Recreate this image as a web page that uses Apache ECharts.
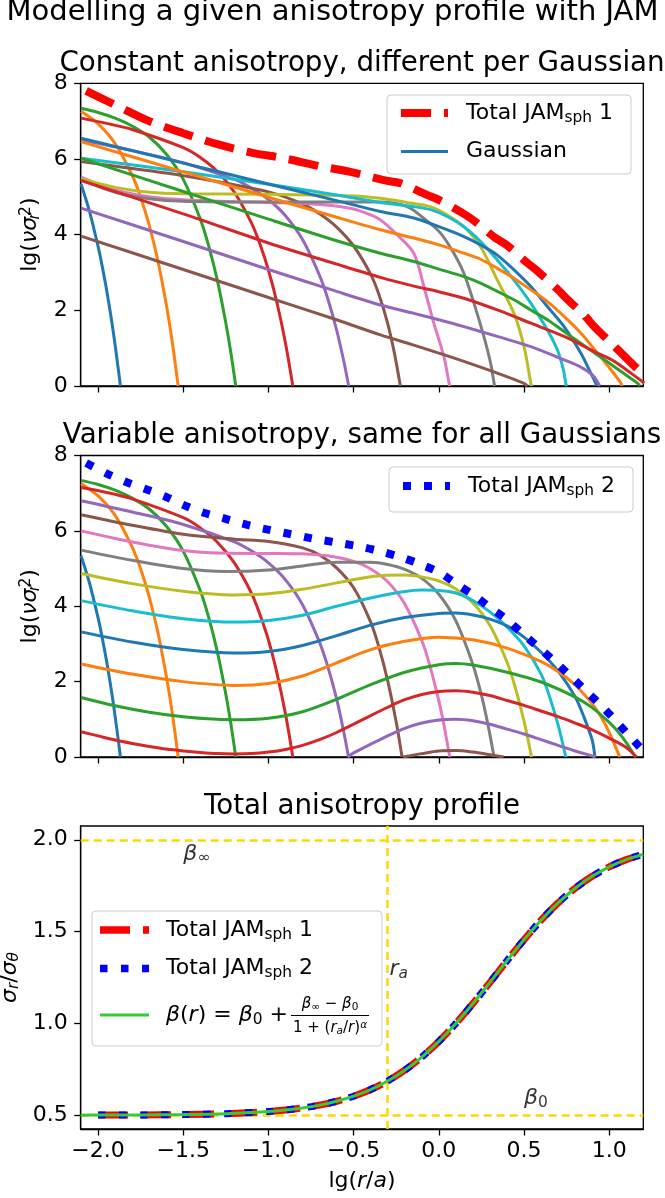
<!DOCTYPE html>
<html><head><meta charset="utf-8">
<script src="https://cdn.jsdelivr.net/npm/echarts@6/dist/echarts.min.js"></script>
<style>html,body{margin:0;padding:0;background:#fff}#c{width:665px;height:1198px}</style>
</head><body><div id="c"></div>
<script>
// ---------------- DATA ----------------
const xTickValues = [-2.0, -1.5, -1.0, -0.5, 0.0, 0.5, 1.0];
const yTicksProfile = [0, 2, 4, 6, 8];
const yTicksAniso = [0.5, 1.0, 1.5, 2.0];

// Panel 1: constant anisotropy, different per Gaussian  [lg r, lg(nu sigma_r^2)]
const p1g01 = [[-2.1,5.34],[-2.05,4.61],[-2.0,3.69],[-1.98,3.26],[-1.95,2.54],[-1.92,1.71],[-1.9,1.08],[-1.88,0.4],[-1.869,0]];
const p1g02 = [[-2.1,7.26],[-2.0,6.93],[-1.9,6.41],[-1.8,5.57],[-1.75,4.99],[-1.7,4.25],[-1.65,3.33],[-1.6,2.16],[-1.57,1.33],[-1.55,0.69],[-1.53,0]];
const p1g03 = [[-2.1,7.34],[-2.0,7.23],[-1.9,7.08],[-1.8,6.87],[-1.7,6.58],[-1.6,6.13],[-1.5,5.46],[-1.4,4.41],[-1.35,3.69],[-1.3,2.79],[-1.25,1.66],[-1.22,0.86],[-1.192,0]];
const p1g04 = [[-2.1,7.08],[-1.95,6.94],[-1.8,6.78],[-1.5,6.3],[-1.4,6.04],[-1.3,5.67],[-1.2,5.12],[-1.1,4.31],[-1.05,3.75],[-1.0,3.06],[-0.95,2.2],[-0.9,1.13],[-0.857,0]];
const p1g05 = [[-2.1,6.5],[-1.8,6.22],[-1.5,5.9],[-1.2,5.46],[-1.1,5.23],[-1.0,4.93],[-0.9,4.5],[-0.8,3.87],[-0.7,2.92],[-0.65,2.28],[-0.6,1.48],[-0.56,0.7],[-0.529,0]];
const p1g06 = [[-2.1,5.93],[-1.8,5.75],[-1.5,5.56],[-1.0,5.13],[-0.8,4.81],[-0.7,4.55],[-0.6,4.2],[-0.5,3.7],[-0.4,2.95],[-0.35,2.4],[-0.3,1.65],[-0.26,0.85],[-0.226,0]];
const p1g07 = [[-2.1,5.52],[-1.9,5.18],[-1.7,5.0],[-1.5,4.92],[-1.2,4.87],[-1.0,4.85],[-0.7,4.8],[-0.5,4.68],[-0.4,4.52],[-0.343,4.39],[-0.25,4.02],[-0.147,3.51],[-0.088,2.63],[-0.03,1.67],[0.029,0.79],[0.06,0.08],[0.064,0]];
const p1g08 = [[-2.1,5.46],[-1.9,5.12],[-1.7,4.95],[-1.5,4.88],[-1.0,4.86],[-0.5,4.86],[-0.343,4.86],[-0.186,4.74],[-0.088,4.43],[0.01,4.04],[0.088,3.51],[0.147,2.98],[0.206,2.19],[0.264,1.31],[0.304,0.6],[0.325,0.05],[0.328,0]];
const p1g09 = [[-2.1,5.47],[-1.9,5.25],[-1.7,5.12],[-1.5,5.08],[-1.0,5.07],[-0.5,5.02],[-0.343,4.96],[-0.2,4.86],[-0.05,4.74],[0.049,4.52],[0.147,4.21],[0.245,3.68],[0.343,2.8],[0.441,1.92],[0.5,1.04],[0.54,0.07],[0.545,0]];
const p1g10 = [[-2.1,6.02],[-1.5,5.66],[-1.0,5.33],[-0.6,5.05],[-0.343,4.85],[-0.147,4.74],[-0.049,4.66],[0.049,4.48],[0.147,4.21],[0.245,3.82],[0.343,3.33],[0.441,2.8],[0.54,2.19],[0.637,1.48],[0.696,0.95],[0.73,0.45],[0.745,0.07],[0.75,0]];
const p1g11 = [[-2.1,6.55],[-1.5,5.89],[-1.0,5.34],[-0.6,4.9],[-0.343,4.61],[-0.147,4.44],[0.0,4.21],[0.147,3.95],[0.245,3.73],[0.343,3.46],[0.441,3.07],[0.54,2.63],[0.637,2.1],[0.735,1.57],[0.833,0.87],[0.892,0.34],[0.92,0.08],[0.925,0]];
const p1g12 = [[-2.1,6.46],[-1.5,5.66],[-1.0,4.99],[-0.6,4.46],[-0.343,4.13],[-0.147,3.91],[0.0,3.73],[0.147,3.51],[0.245,3.35],[0.343,3.11],[0.441,2.85],[0.54,2.54],[0.637,2.23],[0.735,1.84],[0.833,1.4],[0.931,0.87],[1.01,0.43],[1.068,0.08],[1.075,0]];
const p1g13 = [[-2.1,6.02],[-1.5,5.14],[-1.0,4.41],[-0.6,3.84],[-0.343,3.51],[-0.147,3.29],[0.0,3.09],[0.147,2.89],[0.245,2.72],[0.343,2.5],[0.441,2.28],[0.54,2.01],[0.637,1.75],[0.735,1.44],[0.833,1.13],[0.931,0.82],[1.03,0.51],[1.127,0.2],[1.167,0.07],[1.18,0]];
const p1g14 = [[-2.1,5.43],[-1.5,4.55],[-1.0,3.78],[-0.6,3.22],[-0.343,2.87],[-0.147,2.64],[0.0,2.49],[0.147,2.32],[0.343,2.01],[0.54,1.66],[0.735,1.31],[0.931,0.87],[1.03,0.65],[1.127,0.34],[1.206,0.08]];
const p1g15 = [[-2.1,4.7],[-1.5,3.82],[-1.0,3.08],[-0.6,2.5],[-0.343,2.14],[-0.147,1.92],[0.0,1.75],[0.147,1.57],[0.343,1.31],[0.54,1.04],[0.735,0.69],[0.833,0.5],[0.9,0.3],[0.931,0.11],[0.945,0]];
const p1g16 = [[-2.1,3.96],[-1.5,3.08],[-1.0,2.34],[-0.6,1.75],[-0.343,1.35],[-0.147,1.08],[0.0,0.87],[0.147,0.65],[0.343,0.34],[0.5,0.07],[0.52,0]];
const p1Total = [[-2.07,7.8],[-1.9,7.43],[-1.7,7.0],[-1.5,6.68],[-1.3,6.39],[-1.1,6.17],[-0.9,6.01],[-0.7,5.81],[-0.5,5.64],[-0.3,5.42],[-0.225,5.36],[-0.07,5.05],[0.0,4.92],[0.14,4.57],[0.2,4.39],[0.33,3.92],[0.4,3.72],[0.52,3.25],[0.57,3.07],[0.7,2.54],[0.75,2.31],[0.86,1.84],[0.91,1.58],[1.03,1.05],[1.08,0.83],[1.2,0.3]];

// Panel 2: variable anisotropy, same for all Gaussians
const p2g01 = [[-2.1,5.34],[-2.05,4.61],[-2.0,3.69],[-1.98,3.26],[-1.95,2.54],[-1.92,1.71],[-1.9,1.08],[-1.88,0.4],[-1.869,0]];
const p2g02 = [[-2.1,7.26],[-2.0,6.93],[-1.9,6.41],[-1.8,5.57],[-1.75,4.99],[-1.7,4.25],[-1.65,3.33],[-1.6,2.16],[-1.57,1.33],[-1.55,0.69],[-1.53,0]];
const p2g03 = [[-2.1,7.34],[-2.0,7.23],[-1.9,7.08],[-1.8,6.87],[-1.7,6.58],[-1.6,6.13],[-1.5,5.46],[-1.4,4.41],[-1.35,3.69],[-1.3,2.79],[-1.25,1.66],[-1.22,0.86],[-1.192,0]];
const p2g04 = [[-2.1,7.15],[-1.95,7.02],[-1.8,6.85],[-1.5,6.35],[-1.4,6.08],[-1.3,5.7],[-1.2,5.15],[-1.1,4.35],[-1.05,3.78],[-1.0,3.1],[-0.95,2.22],[-0.9,1.14],[-0.857,0]];
const p2g05 = [[-2.1,6.8],[-1.8,6.5],[-1.5,6.17],[-1.2,5.71],[-1.1,5.47],[-1.0,5.15],[-0.9,4.7],[-0.8,4.04],[-0.7,3.04],[-0.65,2.37],[-0.6,1.54],[-0.56,0.71],[-0.53,0]];
const p2g06 = [[-2.1,6.43],[-1.8,6.15],[-1.5,5.91],[-1.2,5.78],[-1.0,5.72],[-0.8,5.55],[-0.7,5.36],[-0.6,5.02],[-0.5,4.49],[-0.4,3.58],[-0.35,2.89],[-0.3,2.02],[-0.25,0.92],[-0.216,0]];
const p2g07 = [[-2.1,6.0],[-1.9,5.8],[-1.7,5.62],[-1.5,5.48],[-1.3,5.41],[-1.0,5.4],[-0.8,5.39],[-0.6,5.3],[-0.5,5.19],[-0.4,4.99],[-0.3,4.65],[-0.2,4.06],[-0.1,3.09],[-0.05,2.38],[0.0,1.49],[0.03,0.85],[0.064,0]];
const p2g08 = [[-2.1,5.49],[-1.8,5.22],[-1.5,5.0],[-1.25,4.92],[-1.0,4.96],[-0.8,5.07],[-0.6,5.17],[-0.4,5.17],[-0.3,5.11],[-0.2,4.98],[-0.1,4.74],[0.0,4.32],[0.1,3.61],[0.2,2.45],[0.25,1.64],[0.29,0.82],[0.324,0]];
const p2g09 = [[-2.1,4.87],[-1.8,4.6],[-1.5,4.4],[-1.2,4.3],[-1.0,4.33],[-0.8,4.45],[-0.6,4.62],[-0.4,4.78],[-0.3,4.82],[-0.2,4.83],[-0.1,4.78],[0.0,4.67],[0.1,4.46],[0.2,4.09],[0.3,3.49],[0.4,2.52],[0.45,1.82],[0.5,0.95],[0.544,0]];
const p2g10 = [[-2.1,4.15],[-1.8,3.88],[-1.5,3.67],[-1.2,3.58],[-1.0,3.62],[-0.8,3.76],[-0.6,4.0],[-0.4,4.22],[-0.2,4.39],[-0.1,4.43],[0.0,4.42],[0.1,4.35],[0.2,4.15],[0.3,3.85],[0.4,3.45],[0.5,2.95],[0.6,2.2],[0.65,1.6],[0.7,0.85],[0.745,0]];
const p2g11 = [[-2.1,3.32],[-1.8,3.05],[-1.5,2.85],[-1.2,2.76],[-1.0,2.8],[-0.8,2.96],[-0.6,3.22],[-0.4,3.5],[-0.2,3.7],[0.0,3.81],[0.1,3.82],[0.2,3.77],[0.3,3.66],[0.4,3.48],[0.5,3.18],[0.6,2.78],[0.7,2.28],[0.8,1.6],[0.85,1.08],[0.9,0.45],[0.916,0]];
const p2g12 = [[-2.1,2.47],[-1.8,2.2],[-1.5,2.0],[-1.2,1.9],[-1.0,1.95],[-0.8,2.15],[-0.6,2.5],[-0.4,2.85],[-0.2,3.07],[0.0,3.18],[0.2,3.11],[0.4,2.89],[0.6,2.53],[0.7,2.27],[0.8,1.91],[0.9,1.41],[0.95,1.08],[1.0,0.65],[1.062,0]];
const p2g13 = [[-2.1,1.58],[-1.9,1.36],[-1.7,1.19],[-1.5,1.07],[-1.3,1.0],[-1.2,0.99],[-1.0,1.03],[-0.8,1.2],[-0.6,1.53],[-0.4,1.92],[-0.2,2.25],[0.0,2.45],[0.1,2.48],[0.2,2.44],[0.4,2.25],[0.6,1.99],[0.8,1.59],[0.9,1.31],[1.0,0.92],[1.05,0.68],[1.1,0.38],[1.153,0]];
const p2g14 = [[-2.1,0.67],[-2.0,0.56],[-1.9,0.45],[-1.8,0.36],[-1.7,0.28],[-1.6,0.21],[-1.5,0.16],[-1.4,0.12],[-1.3,0.09],[-1.2,0.08],[-1.1,0.09],[-1.0,0.13],[-0.9,0.2],[-0.8,0.31],[-0.7,0.46],[-0.6,0.65],[-0.5,0.87],[-0.4,1.1],[-0.3,1.32],[-0.2,1.52],[-0.1,1.66],[0.0,1.74],[0.1,1.76],[0.2,1.72],[0.3,1.63],[0.4,1.5],[0.5,1.37],[0.6,1.22],[0.7,1.07],[0.8,0.9],[0.9,0.72],[1.0,0.5],[1.1,0.25],[1.16,0]];
const p2g15 = [[-0.535,0],[-0.5,0.11],[-0.4,0.34],[-0.3,0.56],[-0.2,0.76],[-0.1,0.9],[0.0,0.98],[0.1,1.0],[0.2,0.96],[0.3,0.87],[0.4,0.74],[0.5,0.61],[0.6,0.46],[0.7,0.31],[0.8,0.16],[0.9,0.03],[0.92,0]];
const p2g16 = [[-0.21,0],[-0.1,0.09],[0.0,0.16],[0.1,0.17],[0.2,0.13],[0.3,0.06],[0.38,0]];
const p2Total = [[-2.07,7.8],[-1.94,7.5],[-1.82,7.27],[-1.71,7.09],[-1.6,6.9],[-1.49,6.67],[-1.38,6.48],[-1.26,6.33],[-1.15,6.19],[-1.03,6.06],[-0.91,5.95],[-0.79,5.84],[-0.68,5.75],[-0.56,5.66],[-0.44,5.56],[-0.33,5.44],[-0.21,5.28],[-0.1,5.1],[0.01,4.88],[0.1,4.6],[0.21,4.28],[0.3,3.97],[0.4,3.64],[0.49,3.28],[0.58,2.93],[0.67,2.57],[0.76,2.2],[0.85,1.81],[0.94,1.42],[1.02,1.05],[1.1,0.65],[1.18,0.26],[1.2,0.16]];

// Panel 3: total anisotropy profile  (sigma_r / sigma_theta)
const lgR3 = [-2.0,-1.75,-1.5,-1.25,-1.0,-0.9,-0.8,-0.7,-0.6,-0.5,-0.4,-0.3,-0.2,-0.1,0.0,0.1,0.2,0.3,0.4,0.5,0.6,0.7,0.8,0.9,1.0,1.1,1.2];
const total1Ratio = [0.5007,0.5016,0.5037,0.5087,0.5204,0.5285,0.5398,0.5551,0.5759,0.6036,0.6399,0.6866,0.7451,0.8168,0.9019,0.9997,1.108,1.2236,1.3412,1.4556,1.5621,1.6561,1.7361,1.801,1.8523,1.8918,1.9213];
const total2Ratio = [0.5007,0.5016,0.5037,0.5087,0.5204,0.5285,0.5398,0.5551,0.5759,0.6036,0.6399,0.6866,0.7451,0.8168,0.9019,0.9997,1.108,1.2236,1.3412,1.4556,1.5621,1.6561,1.7361,1.801,1.8523,1.8918,1.9213];
const lgRBeta = [-2.1,-2.0,-1.75,-1.5,-1.25,-1.0,-0.9,-0.8,-0.7,-0.6,-0.5,-0.4,-0.3,-0.2,-0.1,0.0,0.1,0.2,0.3,0.4,0.5,0.6,0.7,0.8,0.9,1.0,1.1,1.2];
const betaRatio = [0.5005,0.5007,0.5016,0.5037,0.5087,0.5204,0.5285,0.5398,0.5551,0.5759,0.6036,0.6399,0.6866,0.7451,0.8168,0.9019,0.9997,1.108,1.2236,1.3412,1.4556,1.5621,1.6561,1.7361,1.801,1.8523,1.8918,1.9213];
const beta0Ratio = 0.5, betaInfRatio = 2.0, lgRa = -0.301;
const annotations = [[-1.5, 1.88, 'binf'], [-0.29, 1.25, 'ra'], [0.5, 0.55, 'b0']];

// ---------------- CHART ----------------
const FONT = "DejaVu Sans";
const TAB10 = ['#1f77b4','#ff7f0e','#2ca02c','#d62728','#9467bd','#8c564b','#e377c2','#7f7f7f','#bcbd22','#17becf'];
const X_MIN = -2.102, X_MAX = 1.2;
const G = [
  {left: 80.7, right: 21.7, top: 83.3, height: 302.7},
  {left: 80.7, right: 21.7, top: 455.5, height: 301.5},
  {left: 80.7, right: 21.7, top: 826, height: 303}
];
const fmtNum = v => (v < 0 ? '\u2212' : '') + Math.abs(v).toFixed(1);

function rich(main, sub, fillKey) {
  const c = {}; c[fillKey] = '#000';
  const f = (o) => Object.assign({fontFamily: FONT}, c, o);
  const lh = Math.round(main * 1.1);
  return {
    n: f({fontSize: main, lineHeight: lh}),
    i: f({fontSize: main, fontStyle: 'italic', lineHeight: lh}),
    s: f({fontSize: sub, lineHeight: Math.round(sub * 0.65), verticalAlign: 'bottom'}),
    si: f({fontSize: sub, fontStyle: 'italic', lineHeight: Math.round(sub * 0.65), verticalAlign: 'bottom'}),
    sn: f({fontSize: sub, fontStyle: 'italic', lineHeight: Math.round(sub * 0.65), verticalAlign: 'bottom', width: 1}),
    p: f({fontSize: sub, lineHeight: Math.round(sub * 0.65), verticalAlign: 'top'}),
    pi: f({fontSize: sub, fontStyle: 'italic', lineHeight: Math.round(sub * 0.65), verticalAlign: 'top'}),
    sp: {width: 13, lineHeight: lh}
  };
}
const R22 = rich(22, 15.4, 'color');

const xAxes = [0,1,2].map(i => ({
  type: 'value', gridIndex: i, min: X_MIN, max: X_MAX,
  axisLine: {show: true, onZero: false, lineStyle: {color: '#000', width: 1.3}},
  axisTick: {show: true, customValues: xTickValues, length: 6.5, lineStyle: {color: '#000', width: 1.3}},
  axisLabel: {show: i === 2, customValues: xTickValues, formatter: fmtNum, fontSize: 22, fontFamily: FONT, color: '#000', margin: 11},
  splitLine: {show: false},
  name: i === 2 ? '{n|lg(}{i|r}{n|/}{i|a}{n|)}' : '',
  nameLocation: 'middle', nameGap: 40,
  nameTextStyle: {rich: R22}
}));
const yAxes = [0,1].map(i => ({
  type: 'value', gridIndex: i, min: 0, max: 8, interval: 2,
  axisLine: {show: true, onZero: false, lineStyle: {color: '#000', width: 1.3}},
  axisTick: {show: true, length: 6.5, lineStyle: {color: '#000', width: 1.3}},
  axisLabel: {fontSize: 22, fontFamily: FONT, color: '#000', margin: 13},
  splitLine: {show: false},
  name: '{n|lg(}{i|\u03BD\u03C3}{sn|r}{p|2}{n|)}',
  nameLocation: 'middle', nameGap: 38, nameRotate: 90,
  nameTextStyle: {rich: R22}
}));
yAxes.push({
  type: 'value', gridIndex: 2, min: 0.425, max: 2.075,
  axisLine: {show: true, onZero: false, lineStyle: {color: '#000', width: 1.3}},
  axisTick: {show: true, customValues: yTicksAniso, length: 6.5, lineStyle: {color: '#000', width: 1.3}},
  axisLabel: {customValues: yTicksAniso, formatter: v => v.toFixed(1), fontSize: 22, fontFamily: FONT, color: '#000', margin: 13},
  splitLine: {show: false},
  name: '{i|\u03C3}{si|r}{n|/}{i|\u03C3}{si|\u03B8}',
  nameLocation: 'middle', nameGap: 56, nameRotate: 90,
  nameTextStyle: {rich: R22}
});

const series = [];
const gauss1 = [p1g01,p1g02,p1g03,p1g04,p1g05,p1g06,p1g07,p1g08,p1g09,p1g10,p1g11,p1g12,p1g13,p1g14,p1g15,p1g16];
const gauss2 = [p2g01,p2g02,p2g03,p2g04,p2g05,p2g06,p2g07,p2g08,p2g09,p2g10,p2g11,p2g12,p2g13,p2g14,p2g15,p2g16];
function line(name, data, gi, color, width, type, z) {
  return {type: 'line', name, data, xAxisIndex: gi, yAxisIndex: gi, symbol: 'none', showSymbol: false,
    smooth: 0.3, clip: true, silent: true, animation: false, z,
    lineStyle: {color, width, type: type || 'solid', cap: 'butt'}, itemStyle: {color}};
}
gauss1.forEach((d, k) => series.push(line(k === 0 ? 'Gaussian' : 'g1-' + k, d, 0, TAB10[k % 10], 3, null, 2)));
series.push(line('Total 1', p1Total, 0, '#ff0000', 8, [30, 13], 3));
gauss2.forEach((d, k) => series.push(line('g2-' + k, d, 1, TAB10[k % 10], 3, null, 2)));
series.push(line('Total 2', p2Total, 1, '#0000ff', 8, [8, 13], 3));

// panel 3
series.push({type: 'line', name: 'guides', xAxisIndex: 2, yAxisIndex: 2, data: [[lgRa, beta0Ratio]], symbol: 'none', showSymbol: false,
  lineStyle: {opacity: 0}, silent: true, animation: false, z: 1,
  markLine: {silent: true, symbol: ['none', 'none'], label: {show: false}, animation: false, z: 1,
    lineStyle: {color: '#ffd700', width: 2.5, type: [8, 5]},
    data: [{yAxis: betaInfRatio}, {yAxis: beta0Ratio}, {xAxis: lgRa}]}});
series.push(line('Total 1 ', lgR3.map((x, i) => [x, total1Ratio[i]]), 2, '#ff0000', 7, [30, 13], 3));
series.push(line('Total 2 ', lgR3.map((x, i) => [x, total2Ratio[i]]), 2, '#0000ff', 7, [7.5, 13.5], 4));
series.push(line('beta', lgRBeta.map((x, i) => [x, betaRatio[i]]), 2, '#32cd32', 3, null, 5));
const annText = {binf: '{i|\u03B2}{s|\u221E}', ra: '{i|r}{si|a}', b0: '{i|\u03B2}{s|0}'};
series.push({type: 'scatter', name: 'ann', xAxisIndex: 2, yAxisIndex: 2, symbolSize: 0, silent: true, animation: false, z: 6,
  data: annotations.map(a => ({value: [a[0], a[1]], label: {formatter: annText[a[2]]}})),
  label: {show: true, position: 'inside', align: 'left', verticalAlign: 'bottom', offset: [0, 4], rich: R22}});

const legendFmt = name => {
  if (name === 'Total 1') return '{sp|}{n|Total JAM}{s|sph}{n| 1}';
  if (name === 'Total 2') return '{sp|}{n|Total JAM}{s|sph}{n| 2}';
  return '{sp|}{n|Gaussian}';
};
const legendBase = {orient: 'vertical', itemWidth: 47, itemHeight: 14, selectedMode: false,
  backgroundColor: 'rgba(255,255,255,0.8)', borderColor: '#cccccc', borderWidth: 1, borderRadius: 4,
  itemStyle: {opacity: 0}, textStyle: {fontFamily: FONT, fontSize: 22, lineHeight: 24, color: '#000', rich: R22}, formatter: legendFmt};

const RG = rich(22, 15.4, 'fill');
const RF = rich(15, 10.5, 'fill');
const option = {
  animation: false,
  backgroundColor: '#fff',
  grid: G.map(g => Object.assign({show: true, borderColor: '#000', borderWidth: 1.3, backgroundColor: 'transparent', containLabel: false, outerBoundsMode: 'none'}, g)),
  xAxis: xAxes, yAxis: yAxes, series,
  legend: [
    Object.assign({}, legendBase, {left: 387, top: 95, padding: [6, 18, 10.5, 10], itemGap: 14.5,
      data: [{name: 'Total 1', lineStyle: {width: 8, type: [30, 13], color: '#ff0000'}},
             {name: 'Gaussian', lineStyle: {width: 3, type: 'solid', color: TAB10[0]}}]}),
    Object.assign({}, legendBase, {left: 389, top: 467, padding: [7, 18, 14, 10], itemGap: 14.5,
      data: [{name: 'Total 2', lineStyle: {width: 8, type: [8, 13], color: '#0000ff'}}]})
  ],
  graphic: [
    {type: 'text', x: 332.5, y: 27, silent: true, style: {text: 'Modelling a given anisotropy profile with JAM', fontSize: 29, fontFamily: FONT, fill: '#000', align: 'center', verticalAlign: 'bottom'}},
    {type: 'text', x: 362, y: 78, silent: true, style: {text: 'Constant anisotropy, different per Gaussian', fontSize: 27.7, fontFamily: FONT, fill: '#000', align: 'center', verticalAlign: 'bottom'}},
    {type: 'text', x: 362, y: 449.5, silent: true, style: {text: 'Variable anisotropy, same for all Gaussians', fontSize: 27.7, fontFamily: FONT, fill: '#000', align: 'center', verticalAlign: 'bottom'}},
    {type: 'text', x: 362, y: 821, silent: true, style: {text: 'Total anisotropy profile', fontSize: 27.7, fontFamily: FONT, fill: '#000', align: 'center', verticalAlign: 'bottom'}},
    // legend of the bottom panel
    {type: 'rect', silent: true, z: 90, shape: {x: 92, y: 911, width: 290, height: 135, r: 4}, style: {fill: 'rgba(255,255,255,0.8)', stroke: '#cccccc', lineWidth: 1}},
    {type: 'line', silent: true, z: 91, shape: {x1: 100, y1: 930, x2: 149, y2: 930}, style: {stroke: '#ff0000', lineWidth: 7.5, lineDash: [30, 13], lineCap: 'butt'}},
    {type: 'line', silent: true, z: 91, shape: {x1: 100, y1: 968.5, x2: 149, y2: 968.5}, style: {stroke: '#0000ff', lineWidth: 7.5, lineDash: [7.5, 13.5], lineCap: 'butt'}},
    {type: 'line', silent: true, z: 91, shape: {x1: 100, y1: 1015, x2: 149, y2: 1015}, style: {stroke: '#32cd32', lineWidth: 3}},
    {type: 'text', x: 166, y: 930, silent: true, z: 92, style: {text: '{n|Total JAM}{s|sph}{n| 1}', rich: RG, align: 'left', verticalAlign: 'middle'}},
    {type: 'text', x: 166, y: 968.5, silent: true, z: 92, style: {text: '{n|Total JAM}{s|sph}{n| 2}', rich: RG, align: 'left', verticalAlign: 'middle'}},
    {type: 'text', x: 166, y: 1015, silent: true, z: 92, style: {text: '{i|\u03B2}{n|(}{i|r}{n|) = }{i|\u03B2}{s|0}{n| +}', rich: RG, align: 'left', verticalAlign: 'middle'}},
    {type: 'text', x: 330, y: 1004, silent: true, z: 92, style: {text: '{i|\u03B2}{s|\u221E}{n| \u2212 }{i|\u03B2}{s|0}', rich: RF, align: 'center', verticalAlign: 'middle'}},
    {type: 'line', silent: true, z: 92, shape: {x1: 291, y1: 1015.5, x2: 369, y2: 1015.5}, style: {stroke: '#000', lineWidth: 1}},
    {type: 'text', x: 330, y: 1028, silent: true, z: 92, style: {text: '{n|1 + (}{i|r}{si|a}{n|/}{i|r}{n|)}{pi|\u03B1}', rich: RF, align: 'center', verticalAlign: 'middle'}}
  ]
};
const chart = echarts.init(document.getElementById('c'), null, {renderer: 'canvas'});
chart.setOption(option);
</script></body></html>
